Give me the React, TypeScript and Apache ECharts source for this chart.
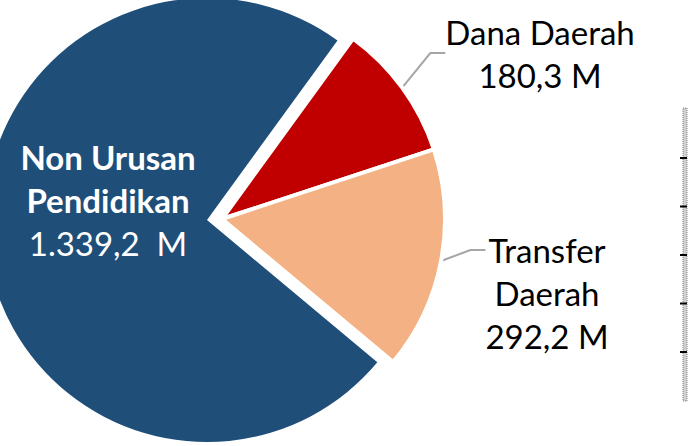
import React, { useEffect, useRef } from "react";
import * as echarts from "echarts";

const categories = ["Dana Daerah", "Transfer Daerah", "Non Urusan Pendidikan"];
const values = [180.3, 292.2, 1339.2];
const valueLabels = ["180,3 M", "292,2 M", "1.339,2  M"];
const nameLines = [["Dana Daerah"], ["Transfer", "Daerah"], ["Non Urusan", "Pendidikan"]];
const colors = ["#C00000", "#F4B183", "#1F4E79"];
const exploded = [true, true, false];
const sideTicks = [0, 1, 2, 3, 4];

const FONT = "Lato";

export default function App() {
  const ref = useRef<HTMLDivElement>(null);
  useEffect(() => {
    if (!ref.current) return;
    const chart = echarts.init(ref.current, undefined, { renderer: "svg" });

    const paddings: Record<number, number[]> = {
      0: [0, 0, 0, 0],
      1: [86, 0, 0, 0],
      2: [0, 0, 0, 0],
    };

    const makeData = (wantExploded: boolean) =>
      categories.map((name, i) => {
        const visible = exploded[i] === wantExploded;
        const isInside = !exploded[i];
        return {
          name,
          value: values[i],
          itemStyle: visible
            ? { color: colors[i], borderColor: "#ffffff", borderWidth: wantExploded ? 4 : 0 }
            : { color: "transparent", borderWidth: 0 },
          label: visible
            ? {
                show: true,
                position: isInside ? "inside" : "outside",
                formatter: isInside
                  ? nameLines[i].map((l) => `{b|${l}}`).join("\n") + `\n{v|${valueLabels[i]}}`
                  : nameLines[i].join("\n") + "\n" + valueLabels[i],
                color: isInside ? "#ffffff" : "#000000",
                fontFamily: FONT,
                fontSize: 33,
                lineHeight: 43,
                align: "center",
                padding: paddings[i],
                rich: {
                  b: { fontFamily: FONT, fontSize: 33, fontWeight: "bold", color: "#ffffff", lineHeight: 43 },
                  v: { fontFamily: FONT, fontSize: 33, color: "#ffffff", lineHeight: 43 },
                },
              }
            : { show: false },
          labelLine: visible && !isInside
            ? { show: true, lineStyle: { color: "#A6A6A6", width: 2 } }
            : { show: false },
          emphasis: { disabled: true },
        };
      });

    const labelPos: Record<number, [number, number]> = {
      0: [540, 53],
      1: [547, 250],
      2: [108, 200],
    };

    const layout = (params: any) => {
      const p = labelPos[params.dataIndex];
      return { x: p[0], y: p[1], align: "center", verticalAlign: "middle" };
    };

    chart.setOption({
      animation: false,
      series: [
        {
          type: "pie",
          center: [207, 220],
          radius: 222,
          startAngle: 54,
          clockwise: true,
          silent: true,
          data: makeData(false),
          labelLayout: layout,
        },
        {
          type: "pie",
          center: [222, 219],
          radius: 223,
          startAngle: 54,
          clockwise: true,
          silent: true,
          data: makeData(true),
          labelLine: { length: 20, length2: 15 },
          labelLayout: layout,
        },
      ],
      graphic: [
        {
          type: "rect",
          shape: { x: 683, y: 108, width: 4, height: 293 },
          style: { fill: "#d0d0d0", stroke: "#808080", lineWidth: 1, lineDash: [1, 1] },
        },
        ...sideTicks.map((k) => ({
          type: "line",
          shape: { x1: 680, y1: 158 + k * 48.5, x2: 687, y2: 158 + k * 48.5 },
          style: { stroke: "#000000", lineWidth: 2 },
        })),
      ],
    });
    return () => chart.dispose();
  }, []);
  return <div ref={ref} style={{ width: 688, height: 446, position: "absolute", left: 0, top: 0 }} />;
}
